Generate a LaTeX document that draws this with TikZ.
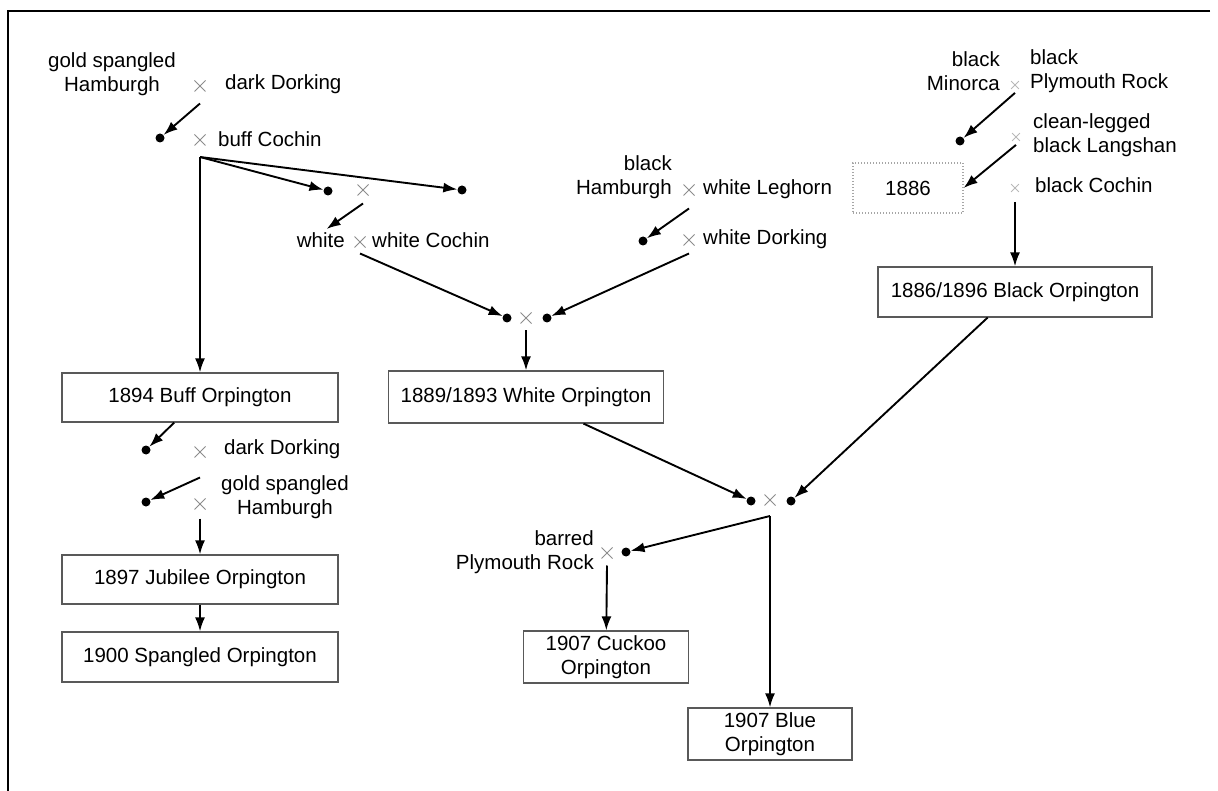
\documentclass[tikz,border=0pt]{standalone}
\usepackage{fontspec}
\setmainfont{Liberation Sans}
\usetikzlibrary{arrows.meta,shapes.misc}
\tikzstyle{dotnode}=[circle,fill=black,minimum size=9pt,inner sep=0pt]
\tikzstyle{crossnode}=[cross out,draw=black!45,line width=1pt,minimum size=10pt,inner sep=0pt]
\tikzstyle{faintcross}=[cross out,draw=black!28,line width=0.8pt,minimum size=7pt,inner sep=0pt]
\tikzstyle{breed}=[draw=black!65,line width=1.2pt,inner sep=0pt,align=center]
\tikzstyle{arrowline} = [draw,line width=1.9pt,-{Latex[length=14pt,width=10pt]}]
\tikzstyle{lbl}=[inner sep=0pt]

\begin{document}
\begin{tikzpicture}[x=1pt,y=-1pt,font=\fontsize{20.5}{23.5}\selectfont]

    \useasboundingbox (0,0) rectangle (1218,791);
    \draw[line width=2pt] (1210,11) -- (8,11) -- (8,791);

    % crosses and dots
     \foreach \x/\y/\name in {200/86/xA, 200/140/xB, 363/190/xC, 360/242/xD, 689/190/xE, 689/240/xF, 526/318/xG, 770/500/xK, 607/553/xL, 200/452/xM, 200/504/xN}
        \node[crossnode] (\name) at (\x,\y) {};
     \foreach \x/\y/\name in {1015/85/xH, 1016/137/xI, 1015/188/xJ}
        \node[faintcross] (\name) at (\x,\y) {};
     \foreach \x/\y/\name in {160/138/d1, 328/191/d2, 462/190/d3, 507/318/d4, 643/241/d5, 547/318/d6, 960/141/d7, 751/501/d8, 791/501/d9, 626/552/d10, 146/450/d11, 146/502/d12}
        \node[dotnode] (\name) at (\x,\y) {};

    \coordinate (j1) at (200,157);
    \coordinate (j2) at (770,516);

    % breeds
    \node[breed, minimum width=276pt, minimum height=49pt] (buff) at (200,397.5) {1894 Buff Orpington};
    \node[breed, minimum width=276pt, minimum height=49pt] (jubilee) at (200,579.5) {1897 Jubilee Orpington};
    \node[breed, minimum width=276pt, minimum height=50pt] (spangled) at (200,657) {1900 Spangled Orpington};
    \node[breed, minimum width=275pt, minimum height=52pt] (whiteorp) at (526,397) {1889/1893 White Orpington};
    \node[breed, minimum width=274pt, minimum height=50pt] (blackorp) at (1015,292) {1886/1896 Black Orpington};
    \node[breed, draw=black!35, dash pattern=on 1pt off 2pt, minimum width=110pt, minimum height=50pt] (y1886) at (908,188) {1886};
    \node[breed, minimum width=165pt, minimum height=52pt] (cuckoo) at (606,657) {1907 Cuckoo\\Orpington};
    \node[breed, minimum width=164pt, minimum height=52pt] (blue) at (770,734) {1907 Blue\\Orpington};

    % parent names
    \node[lbl, align=center] (gsh1) at (112,74) {gold spangled\\Hamburgh};
    \node[lbl, anchor=base west] (dd1) at (225,90) {dark Dorking};
    \node[lbl, anchor=base west] (bcochin) at (218,147) {buff Cochin};
    \node[lbl, anchor=base east] (white) at (345,248) {white};
    \node[lbl, anchor=base west] (wcochin) at (372,248) {white Cochin};
    \node[lbl, align=right, anchor=east] (bham) at (672,177) {black\\Hamburgh};
    \node[lbl, anchor=base west] (wleg) at (703,195) {white Leghorn};
    \node[lbl, anchor=base west] (wdork) at (703,245) {white Dorking};
    \node[lbl, align=right, anchor=east] (bmin) at (1000,71) {black\\Minorca};
    \node[lbl, align=left, anchor=west] (bply) at (1030,71) {black\\Plymouth Rock};
    \node[lbl, align=left, anchor=west] (lang) at (1033,135) {clean-legged\\black Langshan};
    \node[lbl, anchor=base west] (bcoch) at (1035,193) {black Cochin};
    \node[lbl, anchor=base west] (dd2) at (224,454) {dark Dorking};
    \node[lbl, align=center] (gsh2) at (285,497) {gold spangled\\Hamburgh};
    \node[lbl, align=right, anchor=east] (bpr) at (594,552) {barred\\Plymouth Rock};

    % crosses to offspring
    \foreach \source/\shift/\dest in {xA/12/d1, xD/6/d4, xE/13/d5, xF/8/d6, xG/7/whiteorp, xL/7/cuckoo, xM/20/d12, xN/9/jubilee, xH/4/d7, xJ/10/blackorp}
        \path[arrowline] ([yshift=-\shift pt]\source.south) -- (\dest);
    \path[arrowline, shorten >=7pt] ([yshift=-8pt]xC.south) -- (white.north);
    \path[arrowline] ([yshift=-4pt]xI.south) -- (y1886.east);

    \foreach \source/\dest in {j1/buff, j1/d2, j1/d3, buff/d11, jubilee/spangled, whiteorp/d8, blackorp/d9, j2/blue, j2/d10}
        \path[arrowline] (\source) -- (\dest);

\end{tikzpicture}
\end{document}
